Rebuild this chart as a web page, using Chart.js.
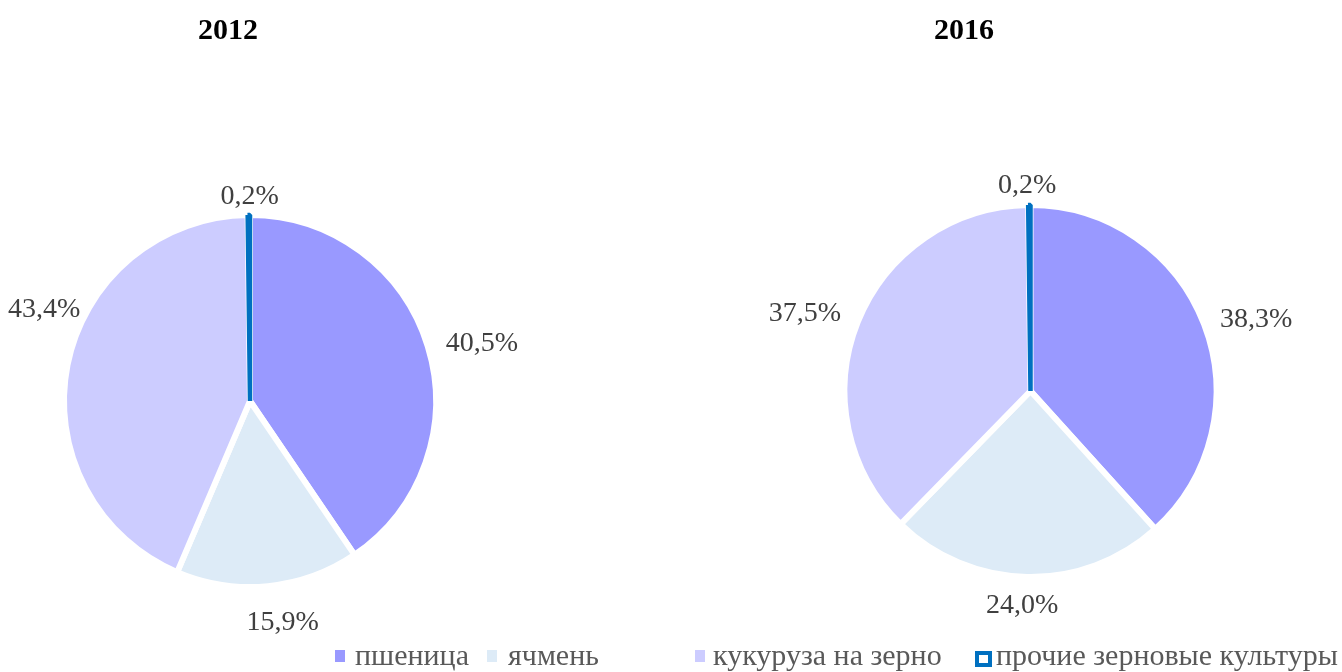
<!DOCTYPE html>
<html>
<head>
<meta charset="utf-8">
<script src="https://cdn.jsdelivr.net/npm/chart.js@4.4.1/dist/chart.umd.min.js"></script>
<style>
  html, body { margin: 0; padding: 0; background: #fff; }
  #wrap { position: relative; width: 1342px; height: 672px; overflow: hidden; }
  #wrap canvas { position: absolute; left: 0; top: 0; }
</style>
</head>
<body>
<div id="wrap">
  <canvas id="pie2012" width="1342" height="672"></canvas>
  <canvas id="pie2016" width="1342" height="672"></canvas>
</div>
<script>
// structure of grain crop sown area, %
const categories = ['пшеница', 'ячмень', 'кукуруза на зерно', 'прочие зерновые культуры'];
const years = ['2012', '2016'];
const share2012 = [40.5, 15.9, 43.4, 0.2];
const share2016 = [38.3, 24.0, 37.5, 0.2];

const sliceColors = ['#9999FF', '#DDEBF7', '#CCCCFF', '#FFFFFF'];
const sliceBorders = ['#FFFFFF', '#FFFFFF', '#FFFFFF', '#0070C0'];
const serif = "'Liberation Serif', 'Times New Roman', serif";

// where each pie sits and how its value labels are nudged from the default spot
const layouts = {
  '2012': {
    padding: { left: 0, right: 842, top: 130, bottom: 0 },
    title: [228, 29],
    nudge: [[10, 1], [10, 14], [22, -54], [1, -1]]
  },
  '2016': {
    padding: { left: 719, right: 0, top: 110, bottom: 0 },
    title: [964, 29],
    nudge: [[9, 1], [-4, 7], [-10, -3], [-2, -2]]
  }
};

// legend is split under the two pies like in the original
const legendBoxX = [335, 487, 695, 975];
const legendTextX = [355, 508, 713, 996];

const outsideLabels = {
  id: 'outsideLabels',
  afterDatasetsDraw(chart, args, opts) {
    const ctx = chart.ctx;
    const meta = chart.getDatasetMeta(0);
    const values = chart.data.datasets[0].data;
    ctx.save();
    ctx.font = '28px ' + serif;
    ctx.fillStyle = '#404040';
    ctx.textAlign = 'center';
    ctx.textBaseline = 'alphabetic';
    meta.data.forEach((arc, i) => {
      const p = arc.getProps(['x', 'y', 'startAngle', 'endAngle', 'outerRadius'], true);
      const mid = (p.startAngle + p.endAngle) / 2;
      const dx = Math.cos(mid), dy = Math.sin(mid);
      const text = values[i].toFixed(1).replace('.', ',') + '%';
      const w = ctx.measureText(text).width;
      const d = p.outerRadius + 10;
      const n = opts.nudge[i] || [0, 0];
      const cx = p.x + dx * d + dx * w / 2 + n[0];
      const cy = p.y + dy * d + dy * 10 + n[1];
      ctx.fillText(text, cx, cy + 9.5);
    });
    // year caption
    ctx.font = 'bold 30px ' + serif;
    ctx.fillStyle = '#000000';
    ctx.fillText(opts.year, opts.title[0], opts.title[1] + 10);
    ctx.restore();
  }
};

const splitLegend = {
  id: 'splitLegend',
  afterDraw(chart, args, opts) {
    if (!opts.show) return;
    const ctx = chart.ctx;
    ctx.save();
    ctx.font = '30px ' + serif;
    ctx.textBaseline = 'alphabetic';
    ctx.textAlign = 'left';
    categories.forEach((name, i) => {
      const x = legendBoxX[i];
      if (sliceBorders[i] !== '#FFFFFF') {
        ctx.fillStyle = sliceColors[i];
        ctx.fillRect(x, 651, 16, 15);
        ctx.strokeStyle = sliceBorders[i];
        ctx.lineWidth = 4;
        ctx.strokeRect(x + 2, 653, 13, 12);
      } else {
        ctx.fillStyle = sliceColors[i];
        ctx.fillRect(x, 650, 10, 12);
      }
      ctx.fillStyle = '#595959';
      ctx.fillText(name, legendTextX[i], 665);
    });
    ctx.restore();
  }
};

function makePie(id, year, values, legend) {
  const lay = layouts[year];
  return new Chart(document.getElementById(id), {
    type: 'pie',
    data: {
      labels: categories,
      datasets: [{
        data: values,
        backgroundColor: sliceColors,
        borderColor: sliceBorders,
        borderWidth: [6, 6, 6, 4.5],
        borderJoinStyle: 'bevel'
      }]
    },
    options: {
      responsive: false,
      animation: false,
      devicePixelRatio: 1,
      events: [],
      radius: 186,
      layout: { padding: lay.padding },
      plugins: {
        legend: { display: false },
        tooltip: { enabled: false },
        outsideLabels: { nudge: lay.nudge, title: lay.title, year: year },
        splitLegend: { show: legend }
      }
    },
    plugins: [outsideLabels, splitLegend]
  });
}

makePie('pie2012', years[0], share2012, false);
makePie('pie2016', years[1], share2016, true);
</script>
</body>
</html>
